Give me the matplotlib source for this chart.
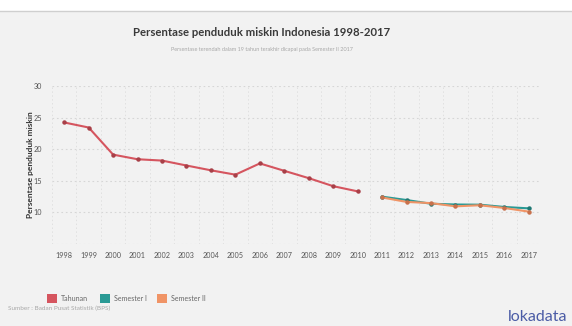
import matplotlib
matplotlib.use("Agg")
import matplotlib.pyplot as plt
from matplotlib.patches import Rectangle
from matplotlib.lines import Line2D

plt.rcParams['font.family'] = ['Lato', 'DejaVu Sans']

years_annual = [1998, 1999, 2000, 2001, 2002, 2003, 2004, 2005, 2006, 2007, 2008, 2009, 2010]
tahunan = [24.23, 23.43, 19.14, 18.41, 18.20, 17.42, 16.66, 15.97, 17.75, 16.58, 15.42, 14.15, 13.33]
years_sem = [2011, 2012, 2013, 2014, 2015, 2016, 2017]
semester1 = [12.49, 11.96, 11.37, 11.25, 11.22, 10.86, 10.64]
semester2 = [12.36, 11.66, 11.47, 10.96, 11.13, 10.70, 10.12]
xticks = list(range(1998, 2018))
yticks = [10, 15, 20, 25, 30]

title = "Persentase penduduk miskin Indonesia 1998-2017"
subtitle = "Persentase terendah dalam 19 tahun terakhir dicapai pada Semester II 2017"
ylabel = "Persentase penduduk miskin"
source = "Sumber : Badan Pusat Statistik (BPS)"
legend_labels = ["Tahunan", "Semester I", "Semester II"]
colors = ["#d5555f", "#2a9a95", "#f09466"]
marker_colors = ["#a84048", "#1f7873", "#c8714c"]

W, H = 572, 326
fig = plt.figure(figsize=(W / 100, H / 100), dpi=100, facecolor="#f2f2f2")

# white strip on top with a thin border line
fig.patches.append(Rectangle((0, (H - 11) / H), 1, 11 / H, transform=fig.transFigure,
                             facecolor="white", edgecolor="none", zorder=0))
fig.lines.append(Line2D([0, 1], [(H - 11) / H] * 2, transform=fig.transFigure,
                        color="#cfcfcf", lw=1.0))

ax = fig.add_axes([52 / W, (H - 244) / H, (541 - 52) / W, (244 - 86) / H])
ax.set_facecolor("#f2f2f2")
for s in ax.spines.values():
    s.set_visible(False)

ax.set_xlim(1997.5, 2017.5)
ax.set_ylim(5, 30)

# grid
for yv in [5, 10, 15, 20, 25, 30]:
    ax.axhline(yv, color="#d6d6d6", lw=0.8, ls=(0, (1.5, 2.5)), zorder=1)
for xv in range(1997, 2018):
    ax.axvline(xv + 0.5, color="#e0e0e0", lw=0.7, ls=(0, (1.5, 2.5)), zorder=1)

series = [(years_annual, tahunan), (years_sem, semester1), (years_sem, semester2)]
for (xs, ys), c, mc in zip(series, colors, marker_colors):
    ax.plot(xs, ys, color=c, lw=1.5, marker="o", ms=2.2, mfc=mc, mec=mc, zorder=3)

ax.set_xticks(xticks)
ax.set_xticklabels([str(x) for x in xticks], fontsize=5.2, color="#555555")
ax.set_yticks(yticks)
ax.set_yticklabels([str(y) for y in yticks], fontsize=5.2, color="#555555")
ax.tick_params(axis="both", length=0)
ax.tick_params(axis="x", pad=6)
ax.tick_params(axis="y", pad=7)

fig.text(30 / W, 1 - 165 / H, ylabel, rotation=90, ha="center", va="center",
         fontsize=6.0, fontweight="bold", color="#333333")

fig.text(262 / W, 1 - 33 / H, title, ha="center", va="center", fontsize=8.2,
         fontweight="bold", color="#3a3a3a")
fig.text(262 / W, 1 - 50 / H, subtitle, ha="center", va="center", fontsize=4.0,
         color="#a8a8a8")

# legend
leg_items = [(47, legend_labels[0], colors[0]), (100, legend_labels[1], colors[1]),
             (157, legend_labels[2], colors[2])]
for x0, lab, c in leg_items:
    fig.patches.append(Rectangle((x0 / W, 1 - 303 / H), 10 / W, 9 / H,
                                 transform=fig.transFigure, facecolor=c,
                                 edgecolor="none"))
    fig.text((x0 + 14) / W, 1 - 298.5 / H, lab, ha="left", va="center",
             fontsize=5.0, color="#666666")

fig.text(8 / W, 1 - 308 / H, source, ha="left", va="center", fontsize=4.6,
         color="#a8a8a8")
fig.text(508 / W, 1 - 317 / H, "lokadata", ha="left", va="center",
         fontsize=11.5, color="#4b5ca6")

fig.savefig("out.png", dpi=100, facecolor=fig.get_facecolor())
